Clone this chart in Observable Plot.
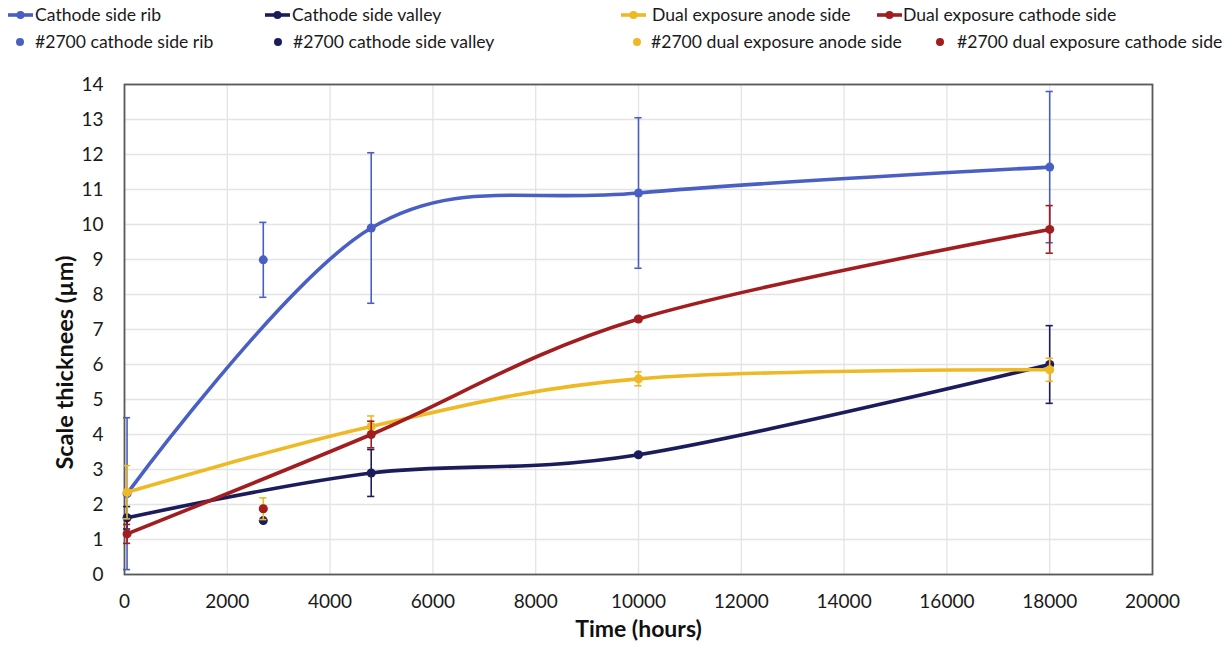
<!DOCTYPE html>
<html><head><meta charset="utf-8">
<script src="https://cdn.jsdelivr.net/npm/d3@7"></script>
<script src="https://cdn.jsdelivr.net/npm/@observablehq/plot@0.6"></script>
<style>
body{margin:0;background:#fff;font-family:Lato,"Open Sans",sans-serif;}
#wrap{position:relative;width:1228px;height:646px;overflow:hidden;}
.leg{position:absolute;font-size:17.6px;color:#1a1a1a;white-space:nowrap;line-height:1;display:flex;align-items:center;}
.leg svg{display:block;}
#chart{position:absolute;left:0;top:60px;}
</style></head><body>
<div id="wrap"><div id="legend"></div><div id="chart"></div></div>
<script>
// ---- data ----
const lineNames = ["Cathode side rib", "Cathode side valley", "Dual exposure anode side", "Dual exposure cathode side"];
const pointNames = ["#2700 cathode side rib", "#2700 cathode side valley", "#2700 dual exposure anode side", "#2700 dual exposure cathode side"];
const colors = ["#4a5fc4", "#1b1c5c", "#eeb925", "#a11d1f"];
const hours = [50, 4800, 10000, 18000];
const ribValues = [2.31, 9.9, 10.9, 11.64];
const ribErrors = [2.17, 2.15, 2.15, 2.16];
const valleyValues = [1.62, 2.9, 3.42, 6.0];
const valleyErrors = [0.32, 0.67, 0.05, 1.11];
const anodeValues = [2.35, 4.23, 5.59, 5.85];
const anodeErrors = [0.76, 0.3, 0.2, 0.33];
const dualCathodeValues = [1.16, 4.0, 7.3, 9.86];
const dualCathodeErrors = [0.27, 0.38, 0.05, 0.68];
const hours2700 = 2700;
const values2700 = [8.99, 1.54, 1.88, 1.88];
const errors2700 = [1.07, 0, 0.31, 0];
const xTicks = [0, 2000, 4000, 6000, 8000, 10000, 12000, 14000, 16000, 18000, 20000];
const yTicks = [0, 1, 2, 3, 4, 5, 6, 7, 8, 9, 10, 11, 12, 13, 14];
const xLabel = "Time (hours)";
const yLabel = "Scale thicknees (µm)";

// ---- build tables ----
const valueSets = [ribValues, valleyValues, anodeValues, dualCathodeValues];
const errorSets = [ribErrors, valleyErrors, anodeErrors, dualCathodeErrors];
const lineRows = valueSets.map((vals, k) => vals.map((v, i) => ({series: lineNames[k], x: hours[i], y: v, e: errorSets[k][i]})));
const pointRows = values2700.map((v, k) => ({series: lineNames[k], x: hours2700, y: v, e: errors2700[k]}));
const capHalf = 70;

const marks = [
  Plot.gridX(xTicks, {stroke: "#e4e4e4", strokeOpacity: 1, strokeWidth: 1.3}),
  Plot.gridY(yTicks, {stroke: "#e4e4e4", strokeOpacity: 1, strokeWidth: 1.3}),
  Plot.frame({stroke: "#5a5a5a", strokeWidth: 1.8}),
  Plot.axisX(xTicks, {tickSize: 0, tickPadding: 20, fontSize: 19, tickFormat: d => String(d), label: null}),
  Plot.axisY(yTicks, {tickSize: 0, tickPadding: 21, fontSize: 19, tickFormat: d => String(d), label: null}),
  Plot.text([xLabel], {frameAnchor: "bottom", dy: 62, fontSize: 23, fontWeight: "bold", fill: "#111"}),
  Plot.text([yLabel], {frameAnchor: "left", textAnchor: "middle", dx: -59, dy: 33, rotate: -90, fontSize: 23.5, fontWeight: "bold", fill: "#111"})
];
lineRows.forEach(rows => {
  const er = rows.filter(d => d.e > 0);
  marks.push(
    Plot.line(rows, {x: "x", y: "y", stroke: "series", strokeWidth: 3.6, curve: "cardinal", tension: 0}),
    Plot.ruleX(er, {x: "x", y1: d => d.y - d.e, y2: d => d.y + d.e, stroke: "series", strokeWidth: 1.6}),
    Plot.ruleY(er, {y: d => d.y - d.e, x1: d => d.x - capHalf, x2: d => d.x + capHalf, stroke: "series", strokeWidth: 1.6}),
    Plot.ruleY(er, {y: d => d.y + d.e, x1: d => d.x - capHalf, x2: d => d.x + capHalf, stroke: "series", strokeWidth: 1.6}),
    Plot.dot(rows, {x: "x", y: "y", fill: "series", r: 4.5})
  );
});
pointRows.forEach(d => {
  const er = d.e > 0 ? [d] : [];
  marks.push(
    Plot.ruleX(er, {x: "x", y1: d => d.y - d.e, y2: d => d.y + d.e, stroke: "series", strokeWidth: 1.6}),
    Plot.ruleY(er, {y: d => d.y - d.e, x1: d => d.x - capHalf, x2: d => d.x + capHalf, stroke: "series", strokeWidth: 1.6}),
    Plot.ruleY(er, {y: d => d.y + d.e, x1: d => d.x - capHalf, x2: d => d.x + capHalf, stroke: "series", strokeWidth: 1.6}),
    Plot.dot([d], {x: "x", y: "y", fill: "series", r: 4.5})
  );
});

const chart = Plot.plot({
  width: 1228,
  height: 586,
  marginTop: 24,
  marginBottom: 72,
  marginLeft: 124,
  marginRight: 76,
  style: {fontFamily: "Lato, 'Open Sans', sans-serif", color: "#1a1a1a", background: "#fff", overflow: "visible"},
  x: {domain: [0, 20000]},
  y: {domain: [0, 14]},
  color: {domain: lineNames, range: colors},
  marks
});
document.getElementById("chart").appendChild(chart);

// ---- legend ----
const legendPos = [
  {line: 8, text1: 35, point: 20, text2: 35},
  {line: 265, text1: 292, point: 278, text2: 293},
  {line: 621, text1: 652, point: 637, text2: 651},
  {line: 877, text1: 903, point: 940, text2: 957}
];
const legend = document.getElementById("legend");
lineNames.forEach((name, k) => {
  const p = legendPos[k];
  const a = document.createElement("div");
  a.className = "leg";
  a.style.left = p.line + "px";
  a.style.top = (15 - 9) + "px";
  a.innerHTML = `<svg width="${p.text1 - p.line}" height="18"><line x1="0" y1="9" x2="25" y2="9" stroke="${colors[k]}" stroke-width="3.6"/><circle cx="12.5" cy="9" r="4" fill="${colors[k]}"/></svg><span>${name}</span>`;
  legend.appendChild(a);
  const b = document.createElement("div");
  b.className = "leg";
  b.style.left = (p.point - 5) + "px";
  b.style.top = (42 - 9) + "px";
  b.innerHTML = `<svg width="${p.text2 - p.point + 5}" height="18"><circle cx="5" cy="9" r="4" fill="${colors[k]}"/></svg><span>${pointNames[k]}</span>`;
  legend.appendChild(b);
});
</script>
</body></html>
